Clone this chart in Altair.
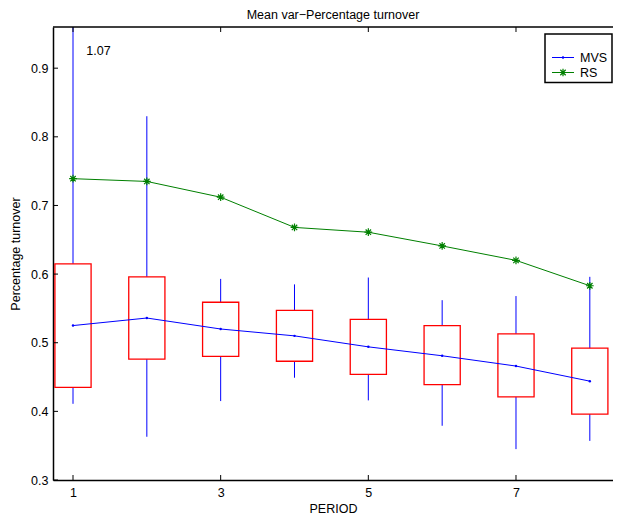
import altair as alt
import pandas as pd

# ---- data ----
periods = [1, 2, 3, 4, 5, 6, 7, 8]
mvs_mean = [0.525, 0.536, 0.520, 0.510, 0.494, 0.481, 0.466, 0.444]
rs_mean = [0.739, 0.735, 0.712, 0.668, 0.661, 0.641, 0.620, 0.583]
box_q1 = [0.435, 0.476, 0.480, 0.473, 0.454, 0.439, 0.421, 0.396]
box_q3 = [0.615, 0.596, 0.559, 0.547, 0.534, 0.525, 0.513, 0.492]
whisk_lo = [0.411, 0.363, 0.415, 0.449, 0.416, 0.379, 0.345, 0.357]
whisk_hi = [1.07, 0.830, 0.593, 0.585, 0.595, 0.562, 0.568, 0.596]
x_ticks = [1, 3, 5, 7]
y_ticks = [0.3, 0.4, 0.5, 0.6, 0.7, 0.8, 0.9]
note_text = ["1.07"]
note_x = [1.18]
note_y = [0.925]
legend_names = ["MVS", "RS"]

BLUE = "#0000ff"
GREEN = "#008000"
RED = "#ff0000"
FONT = "Liberation Sans"
W, H = 560, 453

df = pd.DataFrame({
    "period": periods, "mvs": mvs_mean, "rs": rs_mean,
    "q1": box_q1, "q3": box_q3, "lo": whisk_lo, "hi": whisk_hi,
})
xt = pd.DataFrame({"v": x_ticks})
yt = pd.DataFrame({"v": y_ticks})
note = pd.DataFrame({"t": note_text, "x": note_x, "y": note_y})
one = pd.DataFrame({"k": [0]})

xs = alt.Scale(domain=[0.729, 8.314], nice=False, zero=False)
ys = alt.Scale(domain=[0.3, 0.96], nice=False, zero=False)
xaxis = alt.Axis(values=x_ticks, format="d", title="PERIOD", ticks=False,
                 grid=False, labelPadding=6, titlePadding=4)
yaxis = alt.Axis(values=y_ticks, format=".1f", title="Percentage turnover",
                 ticks=False, grid=False, labelPadding=5, titlePadding=8)


def X(f):
    return alt.X(f, type="quantitative", scale=xs, axis=xaxis)


def Y(f):
    return alt.Y(f, type="quantitative", scale=ys, axis=yaxis)


base = alt.Chart(df)

whisk_low = base.mark_rule(color=BLUE, strokeWidth=1).encode(
    x=X("period"), y=Y("lo"), y2="q1")
whisk_high = base.mark_rule(color=BLUE, strokeWidth=1, clip=True).encode(
    x=X("period"), y=Y("q3"), y2="hi")
boxes = base.transform_calculate(
    x0="datum.period - 0.245", x1="datum.period + 0.245"
).mark_rect(fillOpacity=0, stroke=RED, strokeWidth=1.3).encode(
    x=X("x0"), x2="x1", y=Y("q1"), y2="q3")
mvs_line = base.mark_line(color=BLUE, strokeWidth=1).encode(x=X("period"), y=Y("mvs"))
mvs_pts = base.mark_point(color=BLUE, filled=True, size=6, opacity=1).encode(
    x=X("period"), y=Y("mvs"))
ASTER = "M-1,0L1,0M0,-1L0,1M-0.7,-0.7L0.7,0.7M-0.7,0.7L0.7,-0.7"
rs_line = base.mark_line(color=GREEN, strokeWidth=1).encode(x=X("period"), y=Y("rs"))
rs_pts = base.mark_point(shape=ASTER, filled=False, color=GREEN, size=60,
                         strokeWidth=1.2, opacity=1).encode(x=X("period"), y=Y("rs"))

note_layer = alt.Chart(note).mark_text(
    align="left", baseline="middle", font=FONT, fontSize=12.5, color="black"
).encode(x=X("x"), y=Y("y"), text="t:N")

# inward tick marks and top frame
xt_bot = alt.Chart(xt).mark_rule(color="black", strokeWidth=1).encode(
    x=X("v"), y=alt.value(H), y2=alt.value(H - 5))
xt_top = alt.Chart(xt).mark_rule(color="black", strokeWidth=1).encode(
    x=X("v"), y=alt.value(0), y2=alt.value(5))
yt_left = alt.Chart(yt).mark_rule(color="black", strokeWidth=1).encode(
    y=Y("v"), x=alt.value(0), x2=alt.value(5))
top_frame = alt.Chart(one).mark_rule(color="black", strokeWidth=1.5).encode(
    x=alt.value(0), x2=alt.value(W), y=alt.value(0))

# legend box
LX0, LX1, LY0, LY1 = 492, 559, 7, 55.5
leg_box = alt.Chart(one).mark_rect(fill="white", stroke="black", strokeWidth=1.5).encode(
    x=alt.value(LX0), x2=alt.value(LX1), y=alt.value(LY0), y2=alt.value(LY1))
rows = [(legend_names[0], BLUE, 30.5), (legend_names[1], GREEN, 45.5)]
leg_layers = []
for name, col, yy in rows:
    leg_layers.append(alt.Chart(one).mark_rule(color=col, strokeWidth=1).encode(
        x=alt.value(LX0 + 7), x2=alt.value(LX0 + 29), y=alt.value(yy)))
    leg_layers.append(alt.Chart(one).mark_text(
        text=name, align="left", baseline="middle", font=FONT, fontSize=12.5, color="black"
    ).encode(x=alt.value(LX0 + 35), y=alt.value(yy)))
leg_layers.append(alt.Chart(one).mark_point(color=BLUE, filled=True, size=6, opacity=1).encode(
    x=alt.value(LX0 + 18), y=alt.value(rows[0][2])))
leg_layers.append(alt.Chart(one).mark_point(shape=ASTER, filled=False, color=GREEN, size=60,
                                            strokeWidth=1.2, opacity=1).encode(
    x=alt.value(LX0 + 18), y=alt.value(rows[1][2])))

chart = alt.layer(
    whisk_low, whisk_high, boxes, mvs_line, mvs_pts, rs_line, rs_pts, note_layer,
    xt_bot, xt_top, yt_left, top_frame, leg_box, *leg_layers
).properties(
    width=W, height=H,
    title=alt.TitleParams("Mean var\u2212Percentage turnover", font=FONT, fontSize=12.5,
                          fontWeight="normal", color="black", anchor="middle", offset=5),
    padding={"left": 45, "top": 19, "right": 0, "bottom": 35},
    autosize=alt.AutoSizeParams(type="none"),
).configure_view(strokeWidth=0).configure_axis(
    labelFont=FONT, titleFont=FONT, labelFontSize=12.5, titleFontSize=12.5,
    titleFontWeight="normal", labelColor="black", titleColor="black",
    domainColor="black", domainWidth=1.5,
)

chart.save("out.html", embed_options={"renderer": "svg", "actions": False})
